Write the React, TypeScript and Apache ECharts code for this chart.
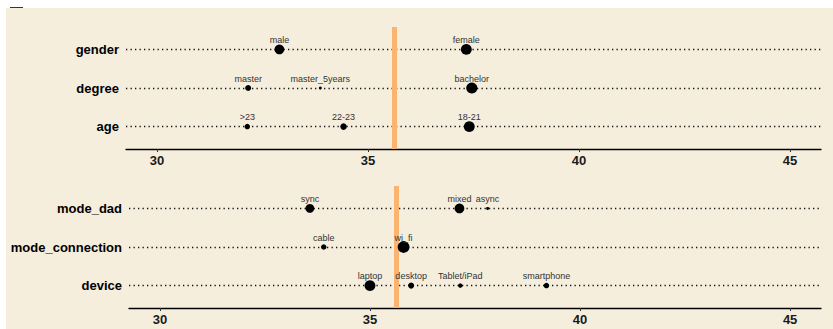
import React, { useEffect, useRef } from "react";
import * as echarts from "echarts";

// ---- data ----
const topRows = ["age", "degree", "gender"]; // bottom -> top
const bottomRows = ["device", "mode_connection", "mode_dad"]; // bottom -> top

const genderLevels = ["male", "female"];
const genderScores = [32.9, 37.33];
const genderN = [96, 118];

const degreeLevels = ["master", "master_5years", "bachelor"];
const degreeScores = [32.16, 33.87, 37.46];
const degreeN = [36, 9, 125];

const ageLevels = [">23", "22-23", "18-21"];
const ageScores = [32.14, 34.42, 37.4];
const ageN = [30, 42, 118];

const modeDadLevels = ["sync", "mixed", "async"];
const modeDadScores = [33.57, 37.13, 37.8];
const modeDadN = [78, 96, 9];

const modeConnLevels = ["cable", "wi_fi"];
const modeConnScores = [33.9, 35.8];
const modeConnN = [30, 140];

const deviceLevels = ["laptop", "desktop", "Tablet/iPad", "smartphone"];
const deviceScores = [35.0, 35.98, 37.15, 39.2];
const deviceN = [118, 36, 20, 30];

const overallMean = 35.62;
const xTicks = [30, 35, 40, 45];

const FONT = "'Liberation Sans', Arial, Helvetica, sans-serif";

function points(levels: string[], scores: number[], ns: number[], row: number) {
  return levels.map((name, i) => ({
    name,
    value: [scores[i], row],
    symbolSize: Math.sqrt(ns[i]),
  }));
}

export default function App() {
  const ref = useRef<HTMLDivElement>(null);
  useEffect(() => {
    if (!ref.current) return;
    const chart = echarts.init(ref.current, null, { renderer: "svg" });

    const topData = [
      ...points(ageLevels, ageScores, ageN, 0),
      ...points(degreeLevels, degreeScores, degreeN, 1),
      ...points(genderLevels, genderScores, genderN, 2),
    ];
    const bottomData = [
      ...points(deviceLevels, deviceScores, deviceN, 0),
      ...points(modeConnLevels, modeConnScores, modeConnN, 1),
      ...points(modeDadLevels, modeDadScores, modeDadN, 2),
    ];

    const xAxisBase = (gridIndex: number) => ({
      type: "value",
      gridIndex,
      min: 29.265,
      max: 45.735,
      position: "bottom",
      splitLine: { show: false },
      axisLine: { show: true, onZero: false, lineStyle: { color: "#000", width: 1.3 } },
      axisTick: {
        show: true,
        length: 3,
        customValues: xTicks,
        lineStyle: { color: "#333", width: 1 },
      },
      axisLabel: {
        customValues: xTicks,
        color: "#1a1a1a",
        fontWeight: "bold",
        fontSize: 13,
        fontFamily: FONT,
        margin: 5,
      },
    });

    const yAxisBase = (gridIndex: number, rows: string[]) => ({
      type: "value",
      gridIndex,
      min: -0.58,
      max: 2.58,
      splitLine: { show: false },
      axisLine: { show: false, onZero: false },
      axisTick: { show: false },
      axisLabel: {
        customValues: [0, 1, 2],
        formatter: (v: number) => rows[Math.round(v)] ?? "",
        color: "#000",
        fontWeight: "bold",
        fontSize: 13,
        fontFamily: FONT,
        margin: 7,
      },
    });

    const lineSeries = (idx: number) => ({
      type: "scatter",
      xAxisIndex: idx,
      yAxisIndex: idx,
      data: [],
      z: 1,
      silent: true,
      markLine: {
        silent: true,
        symbol: "none",
        label: { show: false },
        animation: false,
        data: [
          { yAxis: 0, lineStyle: { color: "#111", width: 1.3, type: [1.3, 3.2] } },
          { yAxis: 1, lineStyle: { color: "#111", width: 1.3, type: [1.3, 3.2] } },
          { yAxis: 2, lineStyle: { color: "#111", width: 1.3, type: [1.3, 3.2] } },
          { xAxis: overallMean, lineStyle: { color: "#FBB46F", width: 5, type: "solid", opacity: 1 } },
        ],
      },
    });

    const dotSeries = (idx: number, data: any[]) => ({
      type: "scatter",
      xAxisIndex: idx,
      yAxisIndex: idx,
      data,
      z: 5,
      symbol: "circle",
      itemStyle: { color: "#000", opacity: 1 },
      label: {
        show: true,
        position: "inside",
        offset: [0, -9.5],
        formatter: (p: any) => p.name,
        color: "#333",
        fontSize: 9,
        fontFamily: FONT,
      },
      emphasis: { disabled: true },
    });

    chart.setOption({
      animation: false,
      backgroundColor: "#ffffff",
      graphic: [
        {
          type: "rect",
          z: -10,
          shape: { x: 6, y: 8, width: 827, height: 321 },
          style: { fill: "#F5EEDD" },
        },
        {
          type: "line",
          z: -9,
          shape: { x1: 10, y1: 7.5, x2: 23, y2: 7.5 },
          style: { stroke: "#333", lineWidth: 1 },
        },
      ],
      grid: [
        { left: 126, right: 12, top: 27, bottom: 329 - 149 },
        { left: 129, right: 12, top: 186, bottom: 329 - 308 },
      ],
      xAxis: [xAxisBase(0), xAxisBase(1)],
      yAxis: [yAxisBase(0, topRows), yAxisBase(1, bottomRows)],
      series: [
        lineSeries(0),
        lineSeries(1),
        dotSeries(0, topData),
        dotSeries(1, bottomData),
      ],
    });
    return () => chart.dispose();
  }, []);

  return (
    <div
      ref={ref}
      style={{ position: "absolute", left: 0, top: 0, width: 833, height: 329 }}
    />
  );
}
